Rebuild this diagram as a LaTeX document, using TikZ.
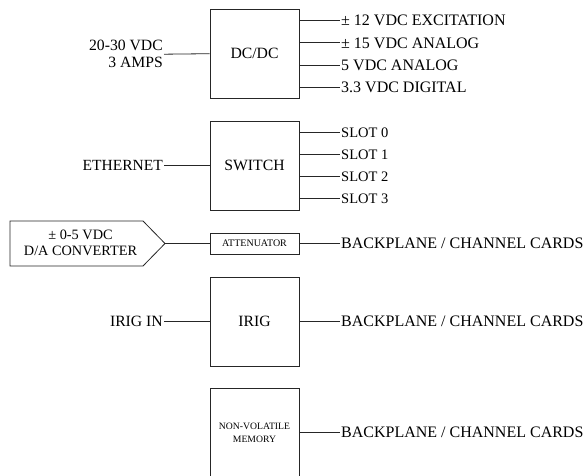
\documentclass[tikz,border=0pt]{standalone}
\usepackage{fontspec}
\setmainfont{Liberation Serif}
\usetikzlibrary{calc}
\tikzset{
  blk/.style={draw=black!85, line width=0.8pt, minimum width=89pt, minimum height=89pt, inner sep=0pt, align=center, font=\fontsize{15.7}{17}\selectfont},
  smallblk/.style={blk, minimum height=21pt, font=\fontsize{10}{11}\selectfont},
  lbl/.style={inner sep=1pt, font=\fontsize{16}{17}\selectfont},
  wire/.style={draw=black!85, line width=0.8pt}
}

\begin{document}
\begin{tikzpicture}[x=1pt, y=-1pt]
			%%%%% START %%%%%
			\useasboundingbox (0,0) rectangle (587,476);
			
			% power
			\node[blk] (dcdc) at (254.5, 53.7) {DC/DC};
			\node[lbl, anchor=east, align=right, font=\fontsize{15.7}{17}\selectfont] (pwrin) at (164, 54.2) {20-30 VDC\\3 AMPS};
			\node[lbl, anchor=west] (exc) at (340, 20.7) {± 12 VDC EXCITATION};
			\node[lbl, anchor=west] (ana15) at (340, 42.9) {± 15 VDC ANALOG};
			\node[lbl, anchor=west] (ana5) at (340, 65.2) {5 VDC ANALOG};
			\node[lbl, anchor=west] (dig) at (340, 87.4) {3.3 VDC DIGITAL};
			\draw[wire] (pwrin.east) -- (dcdc.west);
			\draw[wire] (dcdc.east |- exc.west) -- (exc.west);
			\draw[wire] (dcdc.east |- ana15.west) -- (ana15.west);
			\draw[wire] (dcdc.east |- ana5.west) -- (ana5.west);
			\draw[wire] (dcdc.east |- dig.west) -- (dig.west);
			
			% network
			\node[blk] (switch) at (254.5, 165.5) {SWITCH};
			\node[lbl, anchor=east, font=\fontsize{15.5}{17}\selectfont] (eth) at (164, 165.5) {ETHERNET};
			\node[lbl, anchor=west, font=\fontsize{14.5}{17}\selectfont] (slotA) at (340, 132.6) {SLOT 0};
			\node[lbl, anchor=west, font=\fontsize{14.5}{17}\selectfont] (slotB) at (340, 154.4) {SLOT 1};
			\node[lbl, anchor=west, font=\fontsize{14.5}{17}\selectfont] (slotC) at (340, 176.6) {SLOT 2};
			\node[lbl, anchor=west, font=\fontsize{14.5}{17}\selectfont] (slotD) at (340, 198.4) {SLOT 3};
			\draw[wire] (eth.east) -- (switch.west);
			\draw[wire] (switch.east |- slotA.west) -- (slotA.west);
			\draw[wire] (switch.east |- slotB.west) -- (slotB.west);
			\draw[wire] (switch.east |- slotC.west) -- (slotC.west);
			\draw[wire] (switch.east |- slotD.west) -- (slotD.west);
			
			% analog out
			\coordinate (dacTip) at (165, 243.5);
			\draw[wire] (10, 221) -- (143, 221) -- (dacTip) -- (143, 266) -- (10, 266) -- cycle;
			\node[lbl, align=center, font=\fontsize{14.3}{16}\selectfont] (dac) at (80.5, 242.5) {± 0-5 VDC\\D/A CONVERTER};
			\node[smallblk] (atten) at (254.5, 243.5) {ATTENUATOR};
			\node[lbl, anchor=west] (bpA) at (340, 243.5) {BACKPLANE / CHANNEL CARDS};
			\draw[wire] (dacTip) -- (atten.west);
			\draw[wire] (atten.east) -- (bpA.west);
			
			% timing
			\node[blk] (irig) at (254.5, 321.5) {IRIG};
			\node[lbl, anchor=east, font=\fontsize{15.7}{17}\selectfont] (irigin) at (164, 321.5) {IRIG IN};
			\node[lbl, anchor=west] (bpB) at (340, 321.5) {BACKPLANE / CHANNEL CARDS};
			\draw[wire] (irigin.east) -- (irig.west);
			\draw[wire] (irig.east) -- (bpB.west);
			
			% memory
			\node[blk, font=\fontsize{9.7}{13}\selectfont] (nvm) at (254.5, 433) {NON-VOLATILE\\MEMORY};
			\node[lbl, anchor=west] (bpC) at (340, 432) {BACKPLANE / CHANNEL CARDS};
			\draw[wire] (nvm.east |- bpC.west) -- (bpC.west);
			%%%%% END %%%%%
\end{tikzpicture}
\end{document}
